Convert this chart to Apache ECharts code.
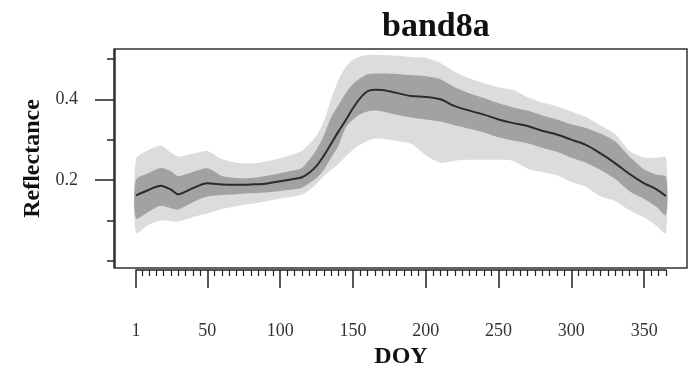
<!DOCTYPE html>
<html>
<head>
<meta charset="utf-8">
<script src="https://cdn.jsdelivr.net/npm/echarts@6/dist/echarts.min.js"></script>
<style>
html,body{margin:0;padding:0;background:#fff;}
#chart{width:689px;height:367px;}
</style>
</head>
<body>
<div id="chart"></div>
<script>
// ---- data ----
var doy     = [1, 10, 18, 25, 30, 40, 50, 60, 70, 80, 90, 100, 110, 115, 120, 125, 130, 135, 140, 145, 150, 155, 160, 165, 170, 180, 190, 200, 210, 220, 230, 240, 250, 260, 270, 280, 290, 300, 310, 320, 330, 340, 350, 358, 365];
var meanVal = [.162,.176,.186,.176,.165,.180,.192,.189,.188,.189,.191,.197,.203,.207,.218,.235,.260,.290,.320,.348,.378,.403,.420,.424,.423,.416,.408,.406,.400,.383,.372,.362,.350,.341,.334,.322,.313,.300,.287,.266,.242,.215,.192,.178,.160];
var innerUp = [.200,.218,.230,.222,.210,.220,.229,.210,.205,.205,.210,.217,.224,.230,.250,.275,.310,.355,.385,.415,.438,.452,.462,.464,.464,.463,.460,.457,.450,.430,.415,.403,.390,.380,.372,.360,.350,.338,.329,.315,.296,.258,.226,.214,.208];
var innerLo = [.105,.122,.136,.130,.127,.145,.159,.163,.165,.167,.169,.173,.177,.181,.192,.205,.225,.255,.285,.330,.350,.363,.370,.372,.370,.362,.355,.350,.345,.336,.327,.318,.306,.298,.291,.280,.270,.255,.243,.225,.203,.172,.153,.135,.113];
var outerUp = [.252,.275,.285,.268,.258,.265,.272,.252,.243,.241,.246,.254,.265,.272,.290,.310,.345,.400,.448,.480,.498,.506,.510,.510,.510,.508,.505,.503,.490,.468,.452,.440,.430,.423,.405,.392,.383,.370,.356,.335,.314,.272,.256,.255,.255];
var outerLo = [.070,.090,.100,.098,.097,.108,.117,.128,.135,.141,.147,.154,.160,.164,.175,.190,.210,.225,.240,.258,.275,.288,.297,.303,.302,.297,.290,.262,.243,.248,.250,.250,.250,.247,.228,.220,.212,.195,.183,.160,.148,.125,.107,.088,.068];

var xTickLabels = [1, 50, 100, 150, 200, 250, 300, 350];
var xMinorTicks = [5,10,15,20,25,30,35,40,45,55,60,65,70,75,80,85,90,95,105,110,115,120,125,130,135,140,145,155,160,165,170,175,180,185,190,195,205,210,215,220,225,230,235,240,245,255,260,265,270,275,280,285,290,295,305,310,315,320,325,330,335,340,345,355,360,365];
var yTickLabels = [0.2, 0.4];
var yMinorTicks = [0, 0.1, 0.3, 0.5];

var titleText = 'band8a';
var xName = 'DOY';
var yName = 'Reflectance';

// ---- build ----
function bandRenderer(lo, hi, color){
  return function(params, api){
    if (params.dataIndex !== 0) return null;
    var top = [], bottom = [];
    for (var i = 0; i < doy.length; i++){
      top.push(api.coord([doy[i], hi[i]]));
      bottom.push(api.coord([doy[i], lo[i]]));
    }
    var pts = top.concat(bottom.reverse());
    return {type: 'polygon', shape: {points: pts, smooth: 0.25}, style: {fill: color, stroke: null}, silent: true};
  };
}

var serif = 'Liberation Serif';
var yMin = -0.018, yMax = 0.5247;

var chart = echarts.init(document.getElementById('chart'), null, {renderer:'canvas'});
chart.setOption({
  animation: false,
  backgroundColor: '#fff',
  title: {
    text: titleText,
    left: 377, top: 5,
    textStyle: {fontFamily: serif, fontWeight: 'bold', fontSize: 34, color: '#111'}
  },
  grid: [
    {left: 115, right: 2, top: 49, bottom: 99, show: true, borderColor: '#333', borderWidth: 1.5,
     backgroundColor: 'transparent', containLabel: false, outerBoundsMode: 'none'},
    {left: 136, right: 23, top: 49, bottom: 99, show: false, containLabel: false, outerBoundsMode: 'none'}
  ],
  xAxis: [
    {gridIndex: 0, type: 'value', min: -13.42, max: 379.44, show: false},
    {gridIndex: 1, type: 'value', min: 1, max: 365, position: 'bottom', offset: 2,
     axisLine: {show: true, onZero: false, lineStyle: {color: '#222', width: 1.5}},
     axisTick: {show: true, inside: false, customValues: xTickLabels, length: 18, lineStyle: {color: '#222', width: 1.5}},
     axisLabel: {show: true, customValues: xTickLabels, margin: 52, fontFamily: serif, fontSize: 18, color: '#333'},
     splitLine: {show: false},
     name: xName, nameLocation: 'middle', nameGap: 75,
     nameTextStyle: {fontFamily: serif, fontWeight: 'bold', fontSize: 24, color: '#111'}
    },
    {gridIndex: 1, type: 'value', min: 1, max: 365, position: 'bottom', offset: 2,
     axisLine: {show: false, onZero: false},
     axisTick: {show: true, inside: false, customValues: xMinorTicks, length: 6, lineStyle: {color: '#222', width: 1.2}},
     axisLabel: {show: false}, splitLine: {show: false}
    }
  ],
  yAxis: [
    {gridIndex: 0, type: 'value', min: yMin, max: yMax, position: 'left', offset: 1,
     axisLine: {show: true, onZero: false, lineStyle: {color: '#222', width: 1.5}},
     axisTick: {show: true, inside: false, customValues: yTickLabels, length: 19, lineStyle: {color: '#222', width: 1.5}},
     axisLabel: {show: true, customValues: yTickLabels, margin: 36, fontFamily: serif, fontSize: 18, color: '#333'},
     splitLine: {show: false},
     name: yName, nameLocation: 'middle', nameGap: 59,
     nameTextStyle: {fontFamily: serif, fontWeight: 'bold', fontSize: 24, color: '#111'}
    },
    {gridIndex: 0, type: 'value', min: yMin, max: yMax, position: 'left', offset: 1,
     axisLine: {show: false, onZero: false},
     axisTick: {show: true, inside: false, customValues: yMinorTicks, length: 7, lineStyle: {color: '#222', width: 1.5}},
     axisLabel: {show: false}, splitLine: {show: false}
    },
    {gridIndex: 1, type: 'value', min: 0, max: 1, show: false}
  ],
  series: [
    {type: 'custom', xAxisIndex: 0, yAxisIndex: 0, data: [[doy[0], outerLo[0]]],
     renderItem: bandRenderer(outerLo, outerUp, '#dcdcdc'), silent: true, clip: true},
    {type: 'custom', xAxisIndex: 0, yAxisIndex: 0, data: [[doy[0], innerLo[0]]],
     renderItem: bandRenderer(innerLo, innerUp, '#a2a2a2'), silent: true, clip: true},
    {type: 'line', xAxisIndex: 0, yAxisIndex: 0, data: doy.map(function(d,i){ return [d, meanVal[i]]; }),
     symbol: 'none', smooth: 0.3, lineStyle: {color: '#2b2b2b', width: 2}, silent: true}
  ]
});
</script>
</body>
</html>
